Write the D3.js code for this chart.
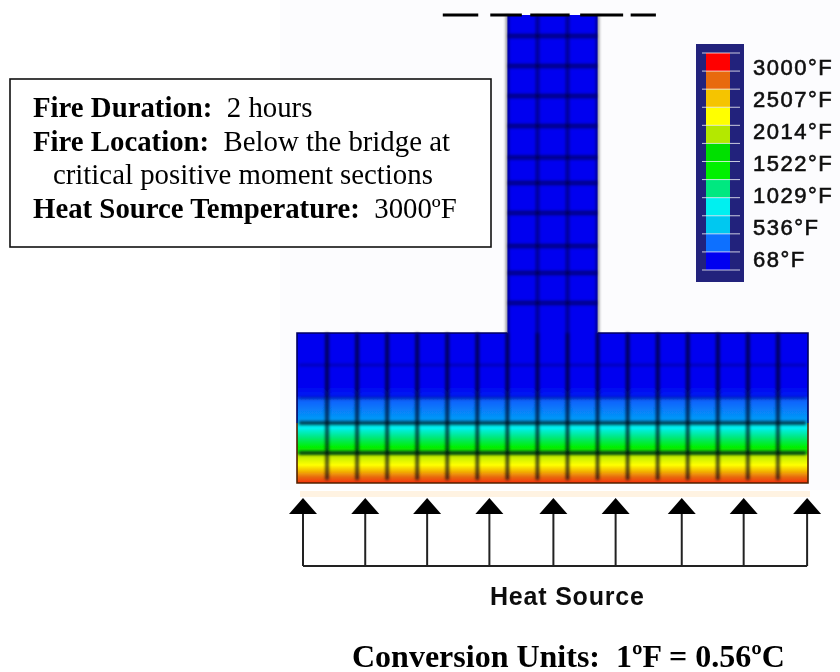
<!DOCTYPE html>
<html><head><meta charset="utf-8">
<script src="https://cdnjs.cloudflare.com/ajax/libs/d3/7.8.5/d3.min.js"></script>
<style>html,body{margin:0;padding:0;background:#fff}svg{display:block}text{white-space:pre}</style>
</head><body><svg id="c" width="840" height="672"></svg>
<script>
// Legend
const legendLabels = ["3000°F","2507°F","2014°F","1522°F","1029°F","536°F","68°F"];
const legendTemps = [2878,2634,2390,2145,1901,1656,1412,1168,923,679,435,190];
const legendColors = ["#ff0000","#e86a10","#f5c400","#ffff00","#b4e800","#00e000","#00f000","#00e880","#00f0f0","#00c8f0","#0a70ff","#0000f0"];
// Temperature profile: height above soffit in element rows, temperature °F
const profileHeights = [0,0.03,0.2,0.37,0.6,0.9,1,1.2,1.53,1.83,1.96,2.09,2.76,2.9,3.26,5,15.6];
const profileTemps =   [2780,2750,2634,2450,2145,1930,1700,1412,1168,923,850,560,400,250,190,170,170];
// Mesh
const flangeCells = d3.range(0,18);
const webCells = [7,8,9,10];
const flangeRowLines = [1,2,2.83,3.93];
const webRowLines = [6,7,7.9,9,10,10.85,11.9,12.9,13.9,14.9];
const flangeTop = 5, webTop = 15.6;
// Heat source arrows (in cell units)
const arrowCells = [0.2,2.27,4.33,6.4,8.53,10.6,12.8,14.86,16.97];
// Dashed symmetry line (in cell units)
const dashStart = [4.85,6.43,7.76,9.42,11.1], dashEnd=[6.03,7.48,9.07,10.85,11.94];
// Texts
const boxLines = [
 [["Fire Duration:",true],["  2 hours",false]],
 [["Fire Location:",true],["  Below the bridge at",false]],
 [["critical positive moment sections",false]],
 [["Heat Source Temperature:",true],["  3000ºF",false]]
];
const heatLabel = "Heat Source";
const conversion = "Conversion Units:  1ºF = 0.56ºC";

const svg = d3.select("#c");
const x = d3.scaleLinear().domain([0,17]).range([297,808]);
const y = d3.scaleLinear().domain([0,15.6]).range([483,15]);
const colorOf = d3.scaleLinear().domain(legendTemps).range(legendColors).clamp(true);
const legendY = d3.scaleLinear().domain([68,3000]).range([270,53]);
const labelY = d3.scalePoint().domain(legendLabels).range([75,267]);

const defs = svg.append("defs");
const grad = defs.append("linearGradient").attr("id","g").attr("gradientUnits","userSpaceOnUse")
 .attr("x1",0).attr("x2",0).attr("y1",y(0)).attr("y2",y(webTop));
profileHeights.forEach((h,i)=>grad.append("stop").attr("offset",h/webTop).attr("stop-color",colorOf(profileTemps[i])));
const blur = (id,s)=>defs.append("filter").attr("id",id).attr("filterUnits","userSpaceOnUse")
 .attr("x",0).attr("y",0).attr("width",840).attr("height",672)
 .append("feGaussianBlur").attr("stdDeviation",s);
blur("b1",1.7); blur("b2",0.6);

svg.append("rect").attr("x",280).attr("y",0).attr("width",560).attr("height",490).attr("fill","#fcfcfe");
svg.append("rect").attr("x",300).attr("y",491).attr("width",510).attr("height",6).attr("fill","#fff3e2").attr("filter","url(#b2)");

// Section
const sec = svg.append("g").attr("filter","url(#b2)");
sec.append("rect").attr("x",x(0)).attr("y",y(flangeTop)).attr("width",x(17)-x(0)).attr("height",y(0)-y(flangeTop)).attr("fill","url(#g)");
sec.append("rect").attr("x",x(7)).attr("y",y(webTop)).attr("width",x(10)-x(7)).attr("height",y(flangeTop)-y(webTop)+1).attr("fill","url(#g)");

const mesh = sec.append("g").attr("filter","url(#b1)").attr("stroke","#000010");
mesh.selectAll(".v").data(flangeCells.slice(1,-1)).join("line").attr("class","v")
 .attr("x1",x).attr("x2",x).attr("y1",y(flangeTop)).attr("y2",y(0.1))
 .attr("stroke-width",3.2).attr("opacity",0.8);
mesh.selectAll(".h").data(flangeRowLines).join("line").attr("class","h")
 .attr("x1",x(0)+2).attr("x2",x(17)-2).attr("y1",y).attr("y2",y)
 .attr("stroke-width",d=>d<2.5?3.2:1.6).attr("opacity",d=>d<2.5?0.9:0.35);
mesh.selectAll(".wv").data(webCells).join("line").attr("class","wv")
 .attr("x1",x).attr("x2",x).attr("y1",y(webTop)).attr("y2",y(flangeTop))
 .attr("stroke-width",3).attr("opacity",0.5);
mesh.selectAll(".wh").data(webRowLines).join("line").attr("class","wh")
 .attr("x1",x(7)+1).attr("x2",x(10)-1).attr("y1",y).attr("y2",y)
 .attr("stroke-width",3.4).attr("opacity",0.55);
// section edges
const edges = sec.append("g").attr("fill","none");
edges.append("path").attr("stroke","#000060").attr("stroke-width",1.6)
 .attr("d",`M${x(7)},${y(flangeTop)}H${x(0)}V${y(2)}M${x(10)},${y(flangeTop)}H${x(17)}V${y(2)}`);
edges.append("path").attr("stroke","#502000").attr("stroke-width",1.6)
 .attr("d",`M${x(0)},${y(2)}V${y(0)}H${x(17)}V${y(2)}`);

// dashed line
svg.append("g").attr("filter","url(#b2)").selectAll("line").data(dashStart).join("line")
 .attr("x1",d=>x(d)).attr("x2",(d,i)=>x(dashEnd[i])).attr("y1",y(webTop)).attr("y2",y(webTop))
 .attr("stroke","#000").attr("stroke-width",3);

// Legend
const lg = svg.append("g").attr("filter","url(#b2)");
lg.append("rect").attr("x",696).attr("y",44).attr("width",48).attr("height",238).attr("fill","#24247c");
const step = (3000-68)/12;
lg.selectAll(".s").data(legendTemps).join("rect").attr("class","s")
 .attr("x",706).attr("width",24)
 .attr("y",d=>legendY(d+step/2)).attr("height",d=>legendY(d-step/2)-legendY(d+step/2))
 .attr("fill",(d,i)=>legendColors[i]);
lg.selectAll(".t").data(d3.range(0,13)).join("line").attr("class","t")
 .attr("x1",702).attr("x2",740)
 .attr("y1",i=>legendY(68+i*step)).attr("y2",i=>legendY(68+i*step))
 .attr("stroke","#fff").attr("stroke-width",1).attr("opacity",0.75);
lg.selectAll("text").data(legendLabels).join("text")
 .attr("x",753).attr("y",d=>labelY(d))
 .attr("font-family","Liberation Sans").attr("font-size",22).attr("letter-spacing",1.5)
 .attr("fill","#111").attr("stroke","#111").attr("stroke-width",0.6).text(d=>d);

// Arrows
const ar = svg.append("g").attr("filter","url(#b2)");
ar.selectAll(".st").data(arrowCells).join("line").attr("class","st")
 .attr("x1",d=>x(d)).attr("x2",d=>x(d)).attr("y1",513).attr("y2",566)
 .attr("stroke","#222").attr("stroke-width",2);
ar.selectAll("path").data(arrowCells).join("path")
 .attr("d",d=>d3.line()([[x(d),498],[x(d)+14,514],[x(d)-14,514]])+"Z").attr("fill","#000");
ar.append("line").attr("class","base").attr("x1",x(arrowCells[0])).attr("x2",x(arrowCells[8])).attr("y1",566).attr("y2",566)
 .attr("stroke","#222").attr("stroke-width",2);
ar.append("text").attr("x",490).attr("y",605).attr("font-family","Liberation Sans").attr("font-weight","bold")
 .attr("font-size",25).attr("letter-spacing",0.8).attr("fill","#111").text(heatLabel);

// Text box
svg.append("rect").attr("x",10).attr("y",79).attr("width",481).attr("height",168)
 .attr("fill","#fff").attr("stroke","#111").attr("stroke-width",1.6);
const baselines = d3.scalePoint().domain(d3.range(4)).range([117,218]);
const tb = svg.append("g").attr("font-family","Liberation Serif").attr("font-size",28.8).attr("fill","#000");
boxLines.forEach((ln,i)=>{
  const t = tb.append("text").attr("x",i==2?53:33).attr("y",baselines(i));
  ln.forEach(([s,b])=>t.append("tspan").attr("font-weight",b?"bold":"normal").text(s));
});
svg.append("text").attr("x",352).attr("y",667).attr("font-family","Liberation Serif")
 .attr("font-weight","bold").attr("font-size",32).attr("fill","#000").text(conversion);
</script></body></html>
